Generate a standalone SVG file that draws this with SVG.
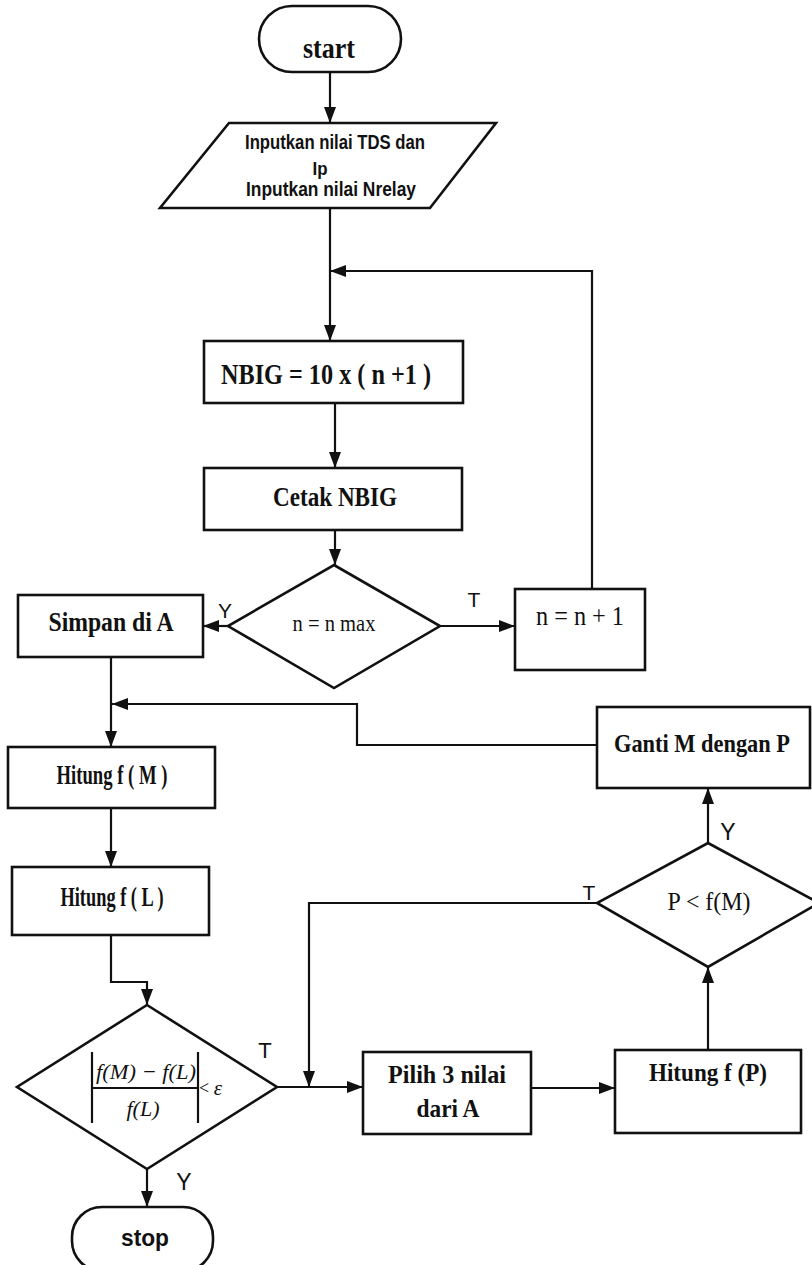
<svg xmlns="http://www.w3.org/2000/svg" width="812" height="1265" viewBox="0 0 812 1265">
<defs>
<marker id="arr" markerUnits="userSpaceOnUse" markerWidth="18" markerHeight="14" refX="16" refY="6" orient="auto">
<path d="M0,0 L16,6 L0,12 z" fill="#111"/>
</marker>
<style>
.box{fill:#fff;stroke:#111;stroke-width:2.6}
.con{fill:none;stroke:#111;stroke-width:2.2;marker-end:url(#arr)}
.line{fill:none;stroke:#111;stroke-width:2.2}
.t{font-family:"Liberation Serif","Times New Roman",serif;font-weight:bold;fill:#111;text-anchor:middle}
.tn{font-family:"Liberation Serif","Times New Roman",serif;font-weight:normal;fill:#111;text-anchor:middle}
.s{font-family:"Liberation Sans",Arial,sans-serif;fill:#111;text-anchor:middle}
.sb{font-family:"Liberation Sans",Arial,sans-serif;font-weight:bold;fill:#111;text-anchor:middle}
.m{font-family:"Liberation Serif","Times New Roman",serif;font-style:italic;fill:#111;text-anchor:middle}
</style>
</defs>
<rect width="812" height="1265" fill="#fff"/>

<g id="connectors">
<path class="con" d="M330,72 V123"/>
<path class="con" d="M330,208 V341"/>
<path class="con" d="M592,589 V271 H330"/>
<path class="con" d="M335,403 V468"/>
<path class="con" d="M335,530 V565"/>
<path class="con" d="M228,626 H203"/>
<path class="con" d="M440,626 H515"/>
<path class="con" d="M111,657 V747"/>
<path class="con" d="M597,745 H357 V704 H112"/>
<path class="con" d="M111,808 V867"/>
<path class="con" d="M111,935 V982 H147 V1005"/>
<path class="con" d="M147,1169 V1207"/>
<path class="con" d="M277,1087 H363"/>
<path class="con" d="M597,903 H309 V1087"/>
<path class="con" d="M531,1088 H615"/>
<path class="con" d="M708,1050 V967"/>
<path class="con" d="M708,843 V788"/>
</g>

<g id="start">
<rect class="box" x="259" y="6" width="142" height="66" rx="33"/>
<text class="t" x="329" y="58" font-size="29" textLength="52" lengthAdjust="spacingAndGlyphs">start</text>
</g>

<g id="input">
<polygon class="box" points="229,123 496,123 430,208 160,208"/>
<text class="sb" x="335" y="149" font-size="21" textLength="180" lengthAdjust="spacingAndGlyphs">Inputkan nilai TDS dan</text>
<text class="sb" x="320" y="175" font-size="18" textLength="15" lengthAdjust="spacingAndGlyphs">Ip</text>
<text class="sb" x="331" y="196" font-size="21" textLength="170" lengthAdjust="spacingAndGlyphs">Inputkan nilai Nrelay</text>
</g>

<g id="nbig">
<rect class="box" x="204" y="341" width="259" height="62"/>
<text class="t" x="326" y="384" font-size="29" textLength="210" lengthAdjust="spacingAndGlyphs">NBIG = 10 x ( n +1 )</text>
</g>

<g id="cetak">
<rect class="box" x="204" y="468" width="258" height="62"/>
<text class="t" x="335" y="506" font-size="28" textLength="124" lengthAdjust="spacingAndGlyphs">Cetak NBIG</text>
</g>

<g id="dec-nmax">
<polygon class="box" points="334,565 440,626 334,688 228,626"/>
<text class="tn" x="334" y="631" font-size="24" textLength="83" lengthAdjust="spacingAndGlyphs">n = n max</text>
<text class="s" x="225" y="618" font-size="21">Y</text>
<text class="s" x="474" y="607" font-size="21">T</text>
</g>

<g id="simpan">
<rect class="box" x="18" y="595" width="185" height="62"/>
<text class="t" x="111" y="631" font-size="27" textLength="125" lengthAdjust="spacingAndGlyphs">Simpan di A</text>
</g>

<g id="ninc">
<rect class="box" x="515" y="589" width="130" height="81"/>
<text class="tn" x="580" y="625" font-size="27" textLength="88" lengthAdjust="spacingAndGlyphs">n = n + 1</text>
</g>

<g id="hitung-m">
<rect class="box" x="8" y="747" width="207" height="61"/>
<text class="t" x="112" y="784" font-size="27" textLength="111" lengthAdjust="spacingAndGlyphs">Hitung f ( M )</text>
</g>

<g id="hitung-l">
<rect class="box" x="12" y="867" width="197" height="68"/>
<text class="t" x="112" y="906" font-size="27" textLength="103" lengthAdjust="spacingAndGlyphs">Hitung f ( L )</text>
</g>

<g id="dec-eps">
<polygon class="box" points="147,1005 277,1087 147,1169 17,1087"/>
<line class="line" x1="92" y1="1052" x2="92" y2="1123"/>
<line class="line" x1="198" y1="1052" x2="198" y2="1123"/>
<line class="line" x1="92" y1="1088" x2="198" y2="1088"/>
<text class="m" x="146" y="1079" font-size="22" textLength="100" lengthAdjust="spacingAndGlyphs">f(M) − f(L)</text>
<text class="m" x="143" y="1116" font-size="22">f(L)</text>
<text class="tn" x="204" y="1094" font-size="18">&lt;</text>
<text class="m" x="218" y="1095" font-size="21">ε</text>
<text class="s" x="265" y="1058" font-size="22">T</text>
<text class="s" x="184" y="1190" font-size="23">Y</text>
</g>

<g id="stop">
<rect class="box" x="72" y="1207" width="141" height="64" rx="30"/>
<text class="sb" x="145" y="1246" font-size="24" textLength="48" lengthAdjust="spacingAndGlyphs">stop</text>
</g>

<g id="pilih">
<rect class="box" x="363" y="1052" width="168" height="82"/>
<text class="t" x="447" y="1083" font-size="26" textLength="118" lengthAdjust="spacingAndGlyphs">Pilih 3 nilai</text>
<text class="t" x="448" y="1117" font-size="26" textLength="63" lengthAdjust="spacingAndGlyphs">dari A</text>
</g>

<g id="hitung-p">
<rect class="box" x="615" y="1050" width="186" height="83"/>
<text class="t" x="708" y="1081" font-size="26" textLength="118" lengthAdjust="spacingAndGlyphs">Hitung f (P)</text>
</g>

<g id="dec-p">
<polygon class="box" points="708,843 819,903 708,967 597,903"/>
<text class="tn" x="709" y="910" font-size="26" textLength="83" lengthAdjust="spacingAndGlyphs">P &lt; f(M)</text>
<text class="s" x="589" y="900" font-size="21">T</text>
<text class="s" x="728" y="840" font-size="23">Y</text>
</g>

<g id="ganti">
<rect class="box" x="597" y="707" width="213" height="81"/>
<text class="t" x="702" y="752" font-size="26" textLength="176" lengthAdjust="spacingAndGlyphs">Ganti M dengan P</text>
</g>
</svg>
